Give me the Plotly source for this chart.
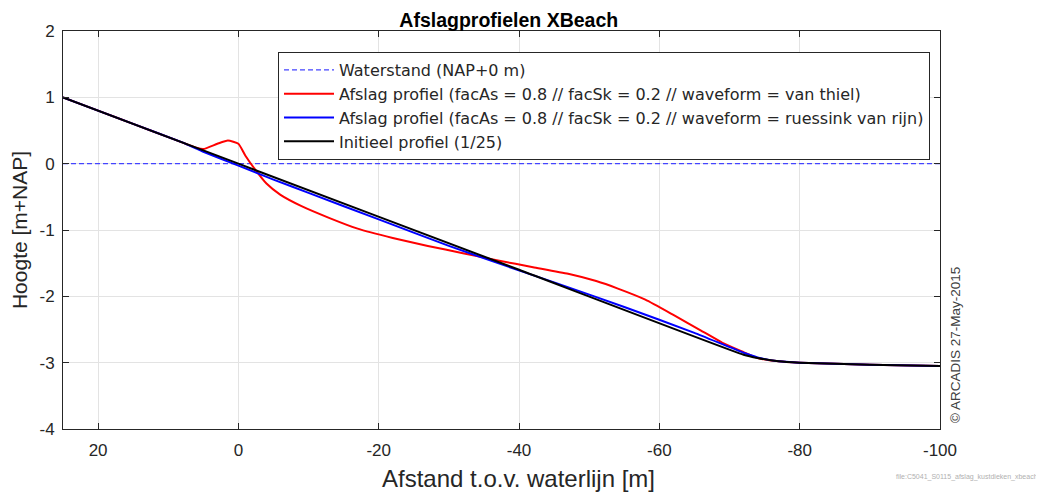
import plotly.graph_objects as go

# ---- data ----
x_water = [25, -100]
y_water = [0, 0]

x_init = [25, 0, -40, -72, -74, -77, -80, -90, -100]
y_init = [1.0, 0.0, -1.6, -2.88, -2.93, -2.98, -3.0, -3.03, -3.05]

x_red = [25, 20, 15, 10, 6, 5, 3, 1.5, 0, -1, -2.4, -4, -6, -9, -13, -17, -22, -27, -32,
         -37, -42, -47, -51, -54, -58, -62, -66, -69, -72, -74, -77, -80, -90, -100]
y_red = [1.0, 0.8, 0.6, 0.4, 0.24, 0.22, 0.3, 0.35, 0.3, 0.12, -0.09, -0.3, -0.47, -0.64,
         -0.82, -0.98, -1.12, -1.24, -1.35, -1.46, -1.56, -1.66, -1.77, -1.88, -2.05, -2.28,
         -2.52, -2.7, -2.84, -2.93, -2.98, -3.0, -3.03, -3.05]

x_blue = [25, 15, 8, 5, 0, -5, -10, -20, -30, -37, -45, -55, -65, -72, -74, -77, -80, -90, -100]
y_blue = [1.0, 0.6, 0.32, 0.18, -0.03, -0.24, -0.44, -0.84, -1.24, -1.5, -1.79, -2.16, -2.55,
          -2.85, -2.92, -2.98, -3.0, -3.03, -3.05]

x_tickvals = [20, 0, -20, -40, -60, -80, -100]
x_ticktext = ["20", "0", "-20", "-40", "-60", "-80", "-100"]
y_tickvals = [2, 1, 0, -1, -2, -3, -4]
y_ticktext = ["2", "1", "0", "-1", "-2", "-3", "-4"]

names = [
    "Waterstand (NAP+0 m)",
    "Afslag profiel (facAs = 0.8 // facSk = 0.2 // waveform = van thiel)",
    "Afslag profiel (facAs = 0.8 // facSk = 0.2 // waveform = ruessink van rijn)",
    "Initieel profiel (1/25)",
]

FONT = "Liberation Sans, Arial, sans-serif"

# page body adds an 8px offset; figure is sized/placed to compensate
W, H = 1036, 484
L, T = 55, 23
R = W - (940 - 8)
B = H - (429 - 8)
PW = W - L - R

fig = go.Figure()
fig.add_trace(go.Scatter(x=x_water, y=y_water, mode="lines", name=names[0],
                         line=dict(color="#4444ff", width=1.2, dash="5px,3px")))
fig.add_trace(go.Scatter(x=x_red, y=y_red, mode="lines", name=names[1],
                         line=dict(color="#ff0000", width=2, shape="spline", smoothing=0.5)))
fig.add_trace(go.Scatter(x=x_blue, y=y_blue, mode="lines", name=names[2],
                         line=dict(color="#0000ff", width=2, shape="spline", smoothing=0.4)))
fig.add_trace(go.Scatter(x=x_init, y=y_init, mode="lines", name=names[3],
                         line=dict(color="#000000", width=2, shape="spline", smoothing=0.4)))

axis_common = dict(
    showline=True, linecolor="#262626", linewidth=1, mirror="ticks",
    ticks="inside", ticklen=6, tickcolor="#262626",
    showgrid=True, gridcolor="#e3e3e3", gridwidth=1,
    zeroline=False, automargin=False,
    tickfont=dict(family=FONT, size=17, color="#262626"),
)

fig.update_layout(
    width=W, height=H,
    margin=dict(l=L, r=R, t=T, b=B),
    plot_bgcolor="white", paper_bgcolor="white",
    font=dict(family=FONT, color="#262626"),
    title=dict(text="<b>Afslagprofielen XBeach</b>", x=(63 + 940) / 2 / 1044 + 0.003,
               xanchor="center", y=1 - 12 / H, yanchor="middle", pad=dict(t=0, b=0),
               font=dict(size=19.5, color="#000000")),
    xaxis=dict(range=[25, -100], tickvals=x_tickvals, ticktext=x_ticktext,
               ticklabelstandoff=6, **axis_common),
    yaxis=dict(range=[-4, 2], tickvals=y_tickvals, ticktext=y_ticktext,
               ticklabelstandoff=4,
               title=dict(text="Hoogte [m+NAP]", font=dict(size=21), standoff=14),
               **axis_common),
    legend=dict(x=(278 - 63) / 877, y=(429 - 52) / 398, xanchor="left", yanchor="top",
                bgcolor="white", bordercolor="#262626", borderwidth=1,
                font=dict(family="DejaVu Sans, sans-serif", size=16, color="#262626"),
                tracegroupgap=0, itemwidth=50),
    showlegend=True,
)

# x-axis title (slightly right of centre, as in the reference)
fig.add_annotation(text="Afstand t.o.v. waterlijn [m]", xref="paper", yref="paper",
                   x=(518 - 63) / PW, y=0, yshift=-(478 - 429), showarrow=False,
                   font=dict(size=24, color="#262626"), xanchor="center", yanchor="middle")
fig.add_annotation(text="\u00a9 ARCADIS 27-May-2015", xref="paper", yref="paper",
                   x=1.0, y=0.211, xshift=15, textangle=-90, showarrow=False,
                   font=dict(size=13.5, color="#404040"), xanchor="center", yanchor="middle")
fig.add_annotation(text="file:C5041_S0115_afslag_kustdieken_xbeach", xref="paper", yref="paper",
                   x=1.0, y=0, xshift=100, yshift=-48, showarrow=False,
                   font=dict(size=7, color="#b0b0b0"), xanchor="right", yanchor="middle")

fig.write_html("out.html")
